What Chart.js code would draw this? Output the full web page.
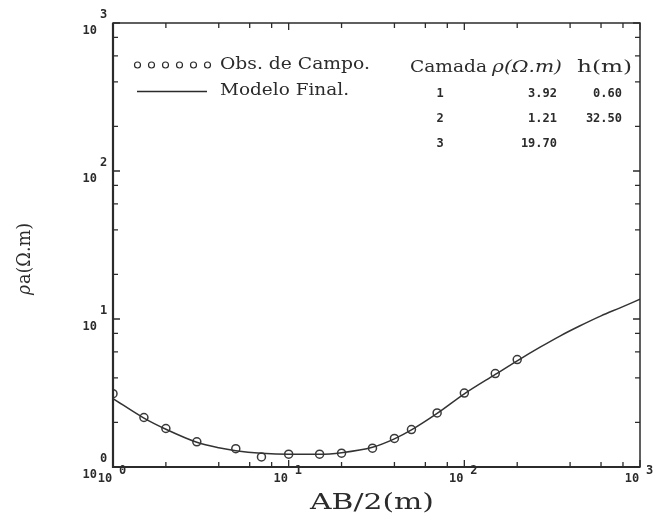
<!DOCTYPE html>
<html>
<head>
<meta charset="utf-8">
<script src="https://cdn.jsdelivr.net/npm/chart.js@4.4.1/dist/chart.umd.min.js"></script>
<style>
  body { margin: 0; background: #fff; }
  #wrap { width: 656px; height: 521px; }
</style>
</head>
<body>
<div id="wrap"><canvas id="chart" width="656" height="521"></canvas></div>
<script>
// field observations (AB/2 in m, apparent resistivity in ohm.m)
const obsX = [1, 1.5, 2, 3, 5, 7, 10, 15, 20, 30, 40, 50, 70, 100, 150, 200];
const obsY = [3.13, 2.16, 1.82, 1.48, 1.33, 1.17, 1.22, 1.22, 1.24, 1.34, 1.56, 1.79, 2.32, 3.16, 4.28, 5.32];

// final model curve
const modelX = [1, 1.5, 2, 3, 4, 5, 7, 10, 15, 20, 30, 40, 50, 70, 100, 150, 200, 270, 350, 450, 600, 770, 1000];
const modelY = [2.90, 2.14, 1.80, 1.47, 1.35, 1.29, 1.24, 1.22, 1.22, 1.25, 1.36, 1.55, 1.78, 2.30, 3.12, 4.22, 5.22, 6.45, 7.67, 8.93, 10.5, 11.9, 13.6];

const decades = [1, 10, 100, 1000];
const exponents = ['0', '1', '2', '3'];
const minorSteps = [2, 4, 6, 8];

const legendLabels = ['Obs. de Campo.', 'Modelo Final.'];
const tableHead = ['Camada', 'ρ(Ω.m)', 'h(m)'];
const layerNum = ['1', '2', '3'];
const layerRho = ['3.92', '1.21', '19.70'];
const layerH = ['0.60', '32.50', ''];

const xTitle = 'AB/2(m)';
const yTitle = 'ρa(Ω.m)';

const ink = '#2b2b2b';
const serif = '"DejaVu Serif", serif';
const mono = '"DejaVu Sans Mono", monospace';

function toPts(xs, ys) {
  return xs.map((x, i) => ({ x: x, y: ys[i] }));
}

// draw text stretched to a given width (the original font is very wide)
function fitText(ctx, str, left, cy, width, font) {
  ctx.font = font;
  const w = ctx.measureText(str).width;
  ctx.save();
  ctx.translate(left, cy);
  ctx.scale(width / w, 1);
  ctx.textAlign = 'left';
  ctx.textBaseline = 'middle';
  ctx.fillText(str, 0, 0);
  ctx.restore();
}

const framePlugin = {
  id: 'frame',
  afterDraw(chart) {
    const { ctx, chartArea: a, scales } = chart;
    const x = scales.x, y = scales.y;
    ctx.save();
    ctx.strokeStyle = ink;
    ctx.fillStyle = ink;

    // box
    ctx.lineWidth = 1.5;
    ctx.strokeRect(a.left, a.top, a.right - a.left, a.bottom - a.top);
    ctx.lineWidth = 2.2;
    ctx.beginPath();
    ctx.moveTo(a.left, a.top);
    ctx.lineTo(a.left, a.bottom);
    ctx.lineTo(a.right, a.bottom);
    ctx.stroke();

    // inward ticks on all four sides
    ctx.lineWidth = 1.3;
    const vals = [];
    decades.slice(0, 3).forEach(d => {
      vals.push([d, 7]);
      minorSteps.forEach(m => vals.push([d * m, 5]));
    });
    vals.push([1000, 7]);
    vals.forEach(([v, len]) => {
      const px = x.getPixelForValue(v);
      const py = y.getPixelForValue(v);
      ctx.beginPath();
      ctx.moveTo(px, a.bottom); ctx.lineTo(px, a.bottom - len);
      ctx.moveTo(px, a.top); ctx.lineTo(px, a.top + len);
      ctx.moveTo(a.left, py); ctx.lineTo(a.left + len, py);
      ctx.moveTo(a.right, py); ctx.lineTo(a.right - len, py);
      ctx.stroke();
    });

    // tick labels 10^n
    ctx.font = 'bold 12px ' + mono;
    ctx.textBaseline = 'middle';
    decades.forEach((d, i) => {
      const py = y.getPixelForValue(d);
      ctx.textAlign = 'right';
      ctx.fillText('10', 97, py + 8);
      ctx.textAlign = 'left';
      ctx.fillText(exponents[i], 100, py - 8);

      const px = x.getPixelForValue(d);
      ctx.textAlign = 'center';
      ctx.fillText('10', px - 8, a.bottom + 12);
      ctx.textAlign = 'left';
      ctx.fillText(exponents[i], px + 6, a.bottom + 4);
    });

    // axis titles
    fitText(ctx, xTitle, 310, 503, 124, '23px ' + serif);
    ctx.save();
    ctx.translate(25, 295);
    ctx.rotate(-Math.PI / 2);
    fitText(ctx, yTitle.charAt(0), 0, 0, 10, 'italic 18px ' + serif);
    fitText(ctx, yTitle.slice(1), 11, 0, 61, '18px ' + serif);
    ctx.restore();

    // legend
    ctx.lineWidth = 1.2;
    for (let k = 0; k < 6; k++) {
      ctx.beginPath();
      ctx.arc(137.5 + k * 14, 65, 3, 0, Math.PI * 2);
      ctx.stroke();
    }
    ctx.lineWidth = 1.5;
    ctx.beginPath();
    ctx.moveTo(137, 91.5);
    ctx.lineTo(207, 91.5);
    ctx.stroke();
    fitText(ctx, legendLabels[0], 220, 65, 150, '16px ' + serif);
    fitText(ctx, legendLabels[1], 220, 91, 129, '16px ' + serif);

    // layer table
    fitText(ctx, tableHead[0], 410, 68, 77, '16px ' + serif);
    fitText(ctx, tableHead[1], 492, 68, 70, 'italic 16px ' + serif);
    fitText(ctx, tableHead[2], 577, 68, 55, '16px ' + serif);
    ctx.font = 'bold 12px ' + mono;
    ctx.textBaseline = 'middle';
    layerNum.forEach((n, i) => {
      const cy = 94 + i * 25;
      ctx.textAlign = 'center';
      ctx.fillText(n, 440, cy);
      ctx.textAlign = 'right';
      ctx.fillText(layerRho[i], 557, cy);
      ctx.fillText(layerH[i], 622, cy);
    });

    ctx.restore();
  }
};

new Chart(document.getElementById('chart'), {
  type: 'scatter',
  data: {
    datasets: [
      {
        label: legendLabels[1],
        data: toPts(modelX, modelY),
        showLine: true,
        borderColor: '#333',
        borderWidth: 1.5,
        pointRadius: 0,
        cubicInterpolationMode: 'monotone',
        fill: false
      },
      {
        label: legendLabels[0],
        data: toPts(obsX, obsY),
        showLine: false,
        pointStyle: 'circle',
        pointRadius: 4,
        borderColor: '#3a3a3a',
        borderWidth: 1.5,
        backgroundColor: 'rgba(0,0,0,0)'
      }
    ]
  },
  options: {
    responsive: false,
    animation: false,
    layout: { padding: { left: 113, right: 16, top: 23, bottom: 54 } },
    scales: {
      x: { type: 'logarithmic', min: 1, max: 1000, display: false },
      y: { type: 'logarithmic', min: 1, max: 1000, display: false }
    },
    plugins: {
      legend: { display: false },
      tooltip: { enabled: false }
    }
  },
  plugins: [framePlugin]
});
</script>
</body>
</html>
